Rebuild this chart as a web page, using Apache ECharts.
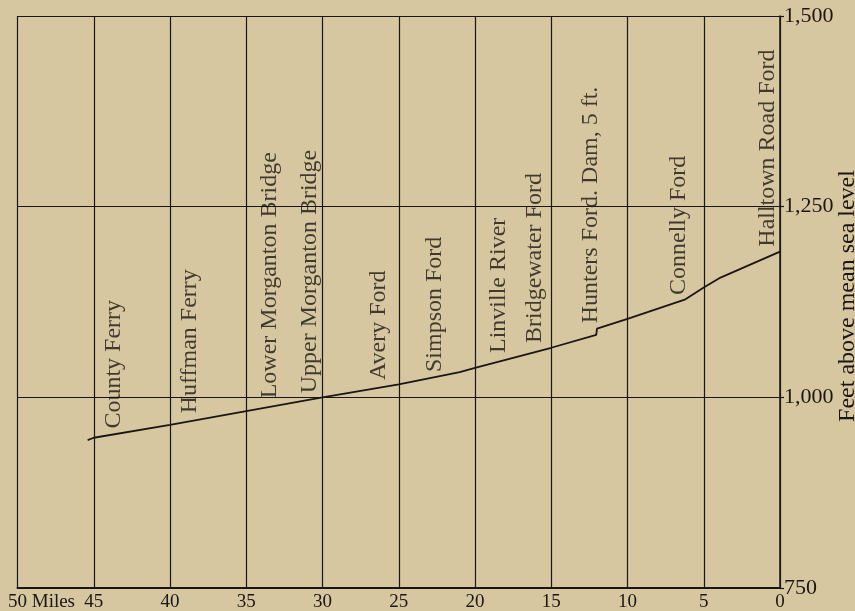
<!DOCTYPE html>
<html>
<head>
<meta charset="utf-8">
<script src="https://cdn.jsdelivr.net/npm/echarts@6/dist/echarts.min.js"></script>
<style>
html,body{margin:0;padding:0;background:#d6c7a1;}
#c{width:855px;height:611px;}
</style>
</head>
<body>
<div id="c"></div>
<script>
// River profile: miles above mouth of section vs. elevation (ft)
var profileMiles = [45.4, 45, 40, 35, 30, 25, 21, 20, 15, 12.05, 12, 10, 6.2, 5, 3.9, 0];
var profileElev  = [944, 947, 964, 982, 1000, 1017, 1033, 1038.5, 1065, 1082, 1090, 1103, 1128.5, 1144, 1157, 1191];

// Place names along the river, with mile and elevation of the label base
var placeNames = ['County Ferry', 'Huffman Ferry', 'Lower Morganton Bridge', 'Upper Morganton Bridge',
  'Avery Ford', 'Simpson Ford', 'Linville River', 'Bridgewater Ford',
  'Hunters Ford. Dam, 5 ft.', 'Connelly Ford', 'Halltown Road Ford'];
var placeMiles = [43.67, 38.69, 33.44, 30.82, 26.34, 22.62, 18.47, 16.07, 12.41, 6.67, 0.79];
var labelElev  = [959, 979, 998.7, 1005.3, 1022.7, 1033.2, 1058.1, 1071.2, 1097.1, 1134.2, 1197.5];

var xTicks = [0, 5, 10, 15, 20, 25, 30, 35, 40, 45, 50];
var yTicks = [750, 1000, 1250, 1500];

var ink = '#1a1612';
var serif = 'Liberation Serif';

var lineData = profileMiles.map(function (m, i) { return [m, profileElev[i]]; });
var labelData = placeMiles.map(function (m, i) { return { value: [m, labelElev[i]], name: placeNames[i] }; });

var chart = echarts.init(document.getElementById('c'), null, { renderer: 'canvas' });
chart.setOption({
  backgroundColor: '#d6c7a1',
  animation: false,
  grid: { left: 17.5, right: 75, top: 16, bottom: 23, containLabel: false, outerBoundsMode: 'none' },
  xAxis: {
    type: 'value',
    inverse: true,
    min: xTicks[0],
    max: xTicks[xTicks.length - 1],
    interval: 5,
    axisLine: { show: true, lineStyle: { color: ink, width: 2 } },
    axisTick: { show: false },
    splitLine: { show: true, lineStyle: { color: ink, width: 1.2 } },
    axisLabel: {
      color: ink,
      fontFamily: serif,
      fontSize: 19,
      margin: 5,
      formatter: function (v) {
        return v === 50 ? '{m|50 Miles}' : String(v);
      },
      rich: {
        m: { fontFamily: serif, fontSize: 19, color: ink, padding: [0, 0, 0, 48] }
      }
    }
  },
  yAxis: {
    type: 'value',
    position: 'right',
    min: yTicks[0],
    max: yTicks[yTicks.length - 1],
    interval: 250,
    name: 'Feet above mean sea level',
    nameLocation: 'middle',
    nameRotate: 90,
    nameGap: 56,
    nameMoveOverlap: false,
    nameTextStyle: { color: ink, fontFamily: serif, fontSize: 24, padding: [0, 0, 0, 12] },
    axisLine: { show: true, lineStyle: { color: ink, width: 1.5 } },
    axisTick: { show: true, length: 4, lineStyle: { color: ink, width: 1.2 } },
    splitLine: { show: true, lineStyle: { color: ink, width: 1.2 } },
    axisLabel: {
      color: ink,
      fontFamily: serif,
      fontSize: 22,
      margin: 4,
      formatter: function (v) {
        return v.toLocaleString('en-US');
      }
    }
  },
  series: [
    {
      type: 'line',
      data: lineData,
      symbol: 'none',
      lineStyle: { color: ink, width: 1.8 },
      z: 3
    },
    {
      type: 'scatter',
      data: labelData,
      symbol: 'circle',
      symbolSize: 1,
      itemStyle: { color: 'rgba(0,0,0,0)' },
      silent: true,
      z: 4,
      label: {
        show: true,
        position: 'inside',
        rotate: 90,
        align: 'left',
        verticalAlign: 'middle',
        color: ink,
        fontFamily: serif,
        fontSize: 24,
        formatter: function (p) { return p.name; }
      }
    }
  ]
});
</script>
</body>
</html>
